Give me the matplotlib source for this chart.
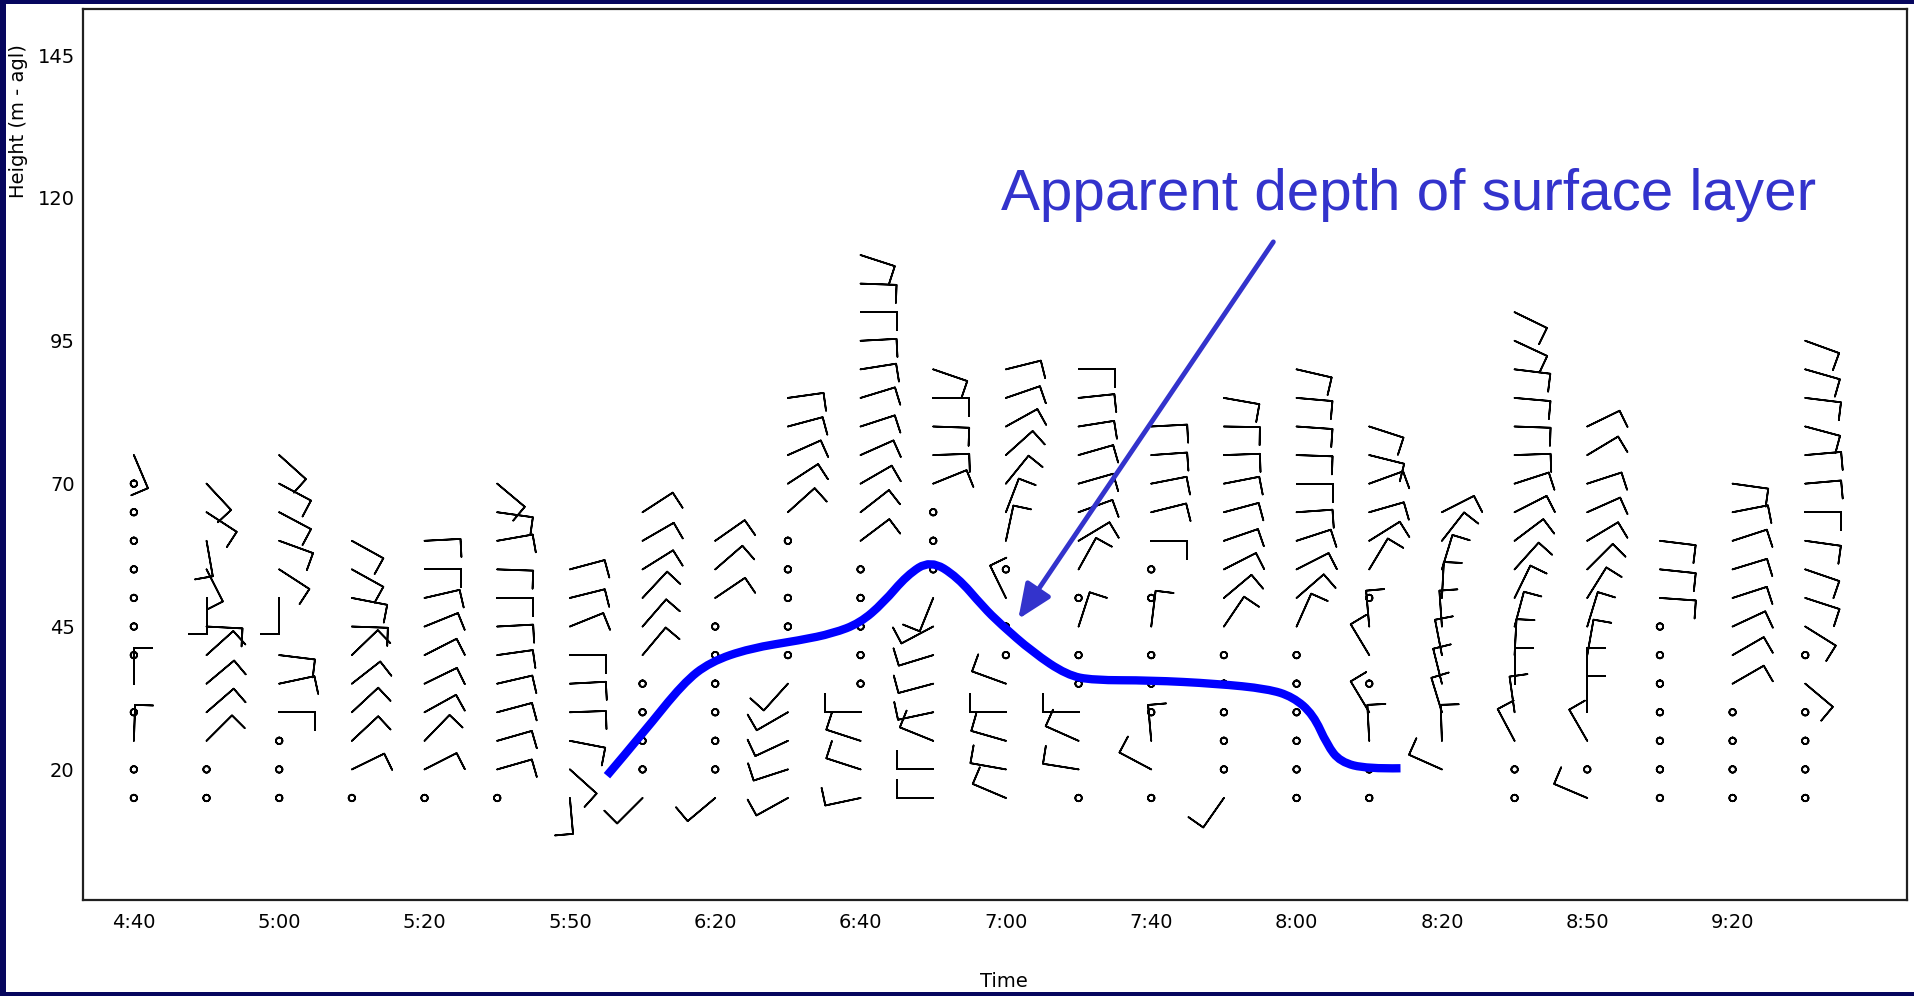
import numpy as np
import matplotlib.pyplot as plt
from matplotlib.patches import Rectangle, PathPatch
from matplotlib.path import Path

C = -1  # calm (plotted as an empty circle)

# sodar range gates, m above ground
levels = list(range(15, 115, 5))

# profile positions on the time axis and the labelled ones
tick_pos = [0, 2, 4, 6, 8, 10, 12, 14, 16, 18, 20, 22]
tick_labels = ['4:40', '5:00', '5:20', '5:50', '6:20', '6:40',
               '7:00', '7:40', '8:00', '8:20', '8:50', '9:20']

# wind direction (deg, from) per profile, starting at 15 m; C = calm, None = no data
p00 = [C, C, 2, C, 0, C, C, C, C, C, C, C, 157]
p01 = [C, C, 45, 49, 50, 48, 93, 180, 153, 170, 123, 137]
p02 = [C, C, C, 90, 78, 97, None, 180, 123, 110, 118, 118, 132]
p03 = [C, 64, 47, 47, 52, 46, 92, 101, 119, 119]
p04 = [C, 63, 44, 61, 64, 63, 68, 77, 90, 87]
p05 = [C, 74, 74, 75, 77, 82, 87, 90, 92, 80, 98, 130]
p06 = [175, 132, 101, 88, 87, 90, 68, 76, 75]
p07 = [225, C, C, C, C, 40, 41, 43, 58, 60, 57]
p08 = [230, C, C, C, C, C, C, 56, 49, 55]
p09 = [241, 252, 245, 240, 222, C, C, C, C, C, 48, 57, 66, 75, 82]
p10 = [258, 288, 288, 270, C, C, C, C, C, 53, 52, 60, 66, 72, 73, 81, 87, 90, 92, 108]
p11 = [270, 270, 292, 258, 255, 253, 242, 202, C, C, C, 68, 88, 92, 90, 109]
p12 = [293, 280, 286, 270, 290, C, C, 334, C, 12, 21, 39, 48, 61, 71, 76]
p13 = [C, 279, 294, 270, C, C, 18, C, 29, 59, 70, 74, 74, 81, 84, 90]
p14 = [C, 298, 355, C, C, C, 7, C, C, 90, 76, 79, 86, 87]
p15 = [215, C, C, C, C, C, 34, 50, 63, 71, 75, 79, 88, 91, 100]
p16 = [C, C, C, C, C, C, 24, 49, 63, 72, 86, 90, 92, 94, 95, 103]
p17 = [C, C, 357, 329, C, 329, 355, C, 31, 58, 74, 70, 104, 108]
p18 = [None, 294, 358, 343, 346, 349, 356, 3, 17, 38, 63]
p19 = [C, C, 332, 352, 0, 3, 15, 26, 42, 53, 63, 72, 88, 92, 95, 97, 115, 116]
p20 = [293, C, 330, 0, 0, 10, 17, 32, 45, 59, 66, 72, 59, 64]
p21 = [C, C, C, C, C, C, C, 94, 96, 97]
p22 = [C, C, C, C, 60, 60, 65, 72, 73, 72, 79, 98]
p23 = [C, C, C, C, 130, C, 122, 108, 109, 98, 90, 85, 85, 105, 97, 106, 110]
profiles = [p00, p01, p02, p03, p04, p05, p06, p07, p08, p09, p10, p11,
            p12, p13, p14, p15, p16, p17, p18, p19, p20, p21, p22, p23]
barb_speed = 10  # one full feather

# hand-drawn "apparent depth of surface layer" line (profile index, height m)
layer_x = [6.51, 7.01, 7.56, 7.93, 8.48, 9.17, 9.62, 9.99, 10.31, 10.64, 10.96,
           11.33, 11.69, 11.92, 12.37, 12.84, 13.2, 13.98, 14.9, 15.6, 15.95,
           16.23, 16.42, 16.6, 16.97, 17.43]
layer_y = [18.9, 26.4, 35.1, 38.8, 41.2, 42.6, 43.8, 45.6, 49.1, 54.0, 56.6,
           53.7, 48.4, 45.5, 40.5, 36.5, 35.6, 35.6, 35.0, 34.1, 32.7,
           29.6, 24.3, 21.3, 20.1, 20.2]
arrow_from = (15.68, 112.3)
arrow_to = (12.17, 46.3)
note = 'Apparent depth of surface layer'
note_xy = (11.93, 117.9)

# build barb arrays
X, Y, U, V = [], [], [], []
for i, prof in enumerate(profiles):
    for h, d in zip(levels, prof):
        if d is None:
            continue
        X.append(i)
        Y.append(h)
        if d == C:
            U.append(0.0)
            V.append(0.0)
        else:
            r = np.deg2rad(d)
            U.append(-barb_speed * np.sin(r))
            V.append(-barb_speed * np.cos(r))

fig = plt.figure(figsize=(19.15, 9.96), dpi=100, facecolor='#06065e')
fig.patches.append(Rectangle((6 / 1915, 4 / 996), 1, 988 / 996,
                             transform=fig.transFigure, facecolor='white',
                             edgecolor='none', zorder=-5))
ax = fig.add_axes([83 / 1915, 96 / 996, 1824 / 1915, 891 / 996])
ax.set_zorder(1)

ax.barbs(X, Y, U, V, length=7.2, linewidth=1.25, barbcolor='k', flagcolor='k',
         sizes=dict(emptybarb=0.09, height=0.5, width=0.0),
         fill_empty=False, zorder=2)

# smooth the hand-drawn line: read points act as quadratic bezier controls
pts = list(zip(layer_x, layer_y))
verts = [pts[0]]
codes = [Path.MOVETO]
for k in range(1, len(pts) - 1):
    mid = ((pts[k][0] + pts[k + 1][0]) / 2, (pts[k][1] + pts[k + 1][1]) / 2)
    if k == len(pts) - 2:
        mid = pts[-1]
    verts += [pts[k], mid]
    codes += [Path.CURVE3, Path.CURVE3]
ax.add_patch(PathPatch(Path(verts, codes), facecolor='none', edgecolor='#0000ff',
                       lw=6, capstyle='butt', joinstyle='round', zorder=3))

ax.annotate('', xy=arrow_to, xytext=arrow_from,
            arrowprops=dict(arrowstyle='-|>,head_length=1.05,head_width=0.45',
                            color='#3333cc', lw=3.5, mutation_scale=20,
                            shrinkA=0, shrinkB=0), zorder=4)
ax.text(note_xy[0], note_xy[1], note, color='#3333cc', fontsize=42,
        family='Liberation Sans', ha='left', va='baseline')

ax.set_xlim(-0.70, 24.40)
ax.set_ylim(-2.85, 153.05)
ax.set_xticks(tick_pos)
ax.set_xticklabels(tick_labels)
ax.set_yticks([20, 45, 70, 95, 120, 145])
ax.tick_params(length=0, labelsize=14, pad=6)
ax.tick_params(axis='x', pad=9)
for s in ax.spines.values():
    s.set_linewidth(1.6)
    s.set_color('#202020')

fig.text(1004 / 1915, 1 - 981 / 996, 'Time', fontsize=14, ha='center', va='center')
fig.text(19 / 1915, 1 - 121 / 996, 'Height (m - agl)', fontsize=14,
         rotation=90, ha='center', va='center')

fig.savefig('out.png', dpi=100, facecolor=fig.get_facecolor())
